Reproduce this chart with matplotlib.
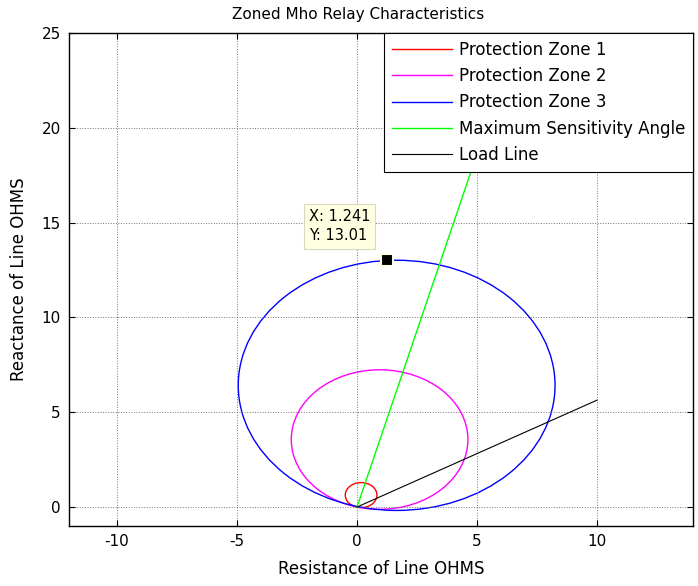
import matplotlib.pyplot as plt
from matplotlib.patches import Circle
from matplotlib.lines import Line2D

plt.rcParams['font.family'] = ['DejaVu Sans']
plt.rcParams['axes.unicode_minus'] = False

# mho circles: centre (R, X) and radius, ohms
zone_names = ['Protection Zone 1', 'Protection Zone 2', 'Protection Zone 3']
zone_colors = ['#ff0000', '#ff00ff', '#0000ff']
zone_cx = [0.17, 0.94, 1.65]
zone_cy = [0.63, 3.56, 6.42]
zone_r = [0.66, 3.68, 6.60]

# maximum sensitivity angle line and load line
msa_r = [0, 5.5]
msa_x = [0, 20.5]
load_r = [0, 10]
load_x = [0, 5.64]

tip_r, tip_x = 1.241, 13.01

fig = plt.figure(figsize=(6.98, 5.86), dpi=100)
ax = fig.add_axes([0.0989, 0.1024, 0.894, 0.841])

handles = []
for name, c, cx, cy, r in zip(zone_names, zone_colors, zone_cx, zone_cy, zone_r):
    ax.add_patch(Circle((cx, cy), r, fill=False, edgecolor=c, linewidth=1.0))
    handles.append(Line2D([], [], color=c, linewidth=1.0, label=name))
h, = ax.plot(msa_r, msa_x, color='#00ff00', linewidth=1.0, label='Maximum Sensitivity Angle')
handles.append(h)
h, = ax.plot(load_r, load_x, color='black', linewidth=0.8, label='Load Line')
handles.append(h)

ax.set_xlim(-12, 14)
ax.set_ylim(-1, 25)
ax.set_xticks([-10, -5, 0, 5, 10])
ax.set_yticks([0, 5, 10, 15, 20, 25])
ax.grid(True, linestyle=':', color='0.45', linewidth=0.7)
ax.tick_params(direction='in', top=True, right=True, labelsize=11, length=4, pad=6)
for s in ax.spines.values():
    s.set_linewidth(1.0)

ax.set_title('Zoned Mho Relay Characteristics', fontsize=11, pad=10, x=0.463)
ax.set_xlabel('Resistance of Line OHMS', fontsize=12, labelpad=8)
ax.set_ylabel('Reactance of Line OHMS', fontsize=12, labelpad=10)

leg = ax.legend(handles=handles, loc='upper right', fontsize=12, frameon=True, fancybox=False,
                borderaxespad=0, handlelength=3.6, labelspacing=0.5,
                borderpad=0.45, handletextpad=0.45)
leg.get_frame().set_edgecolor('black')
leg.get_frame().set_linewidth(0.8)
leg.get_frame().set_alpha(1)
leg.set_zorder(5)

# data tip
ax.plot([tip_r], [tip_x], marker='s', markersize=8, color='black',
        markeredgecolor='#ffffe1', markeredgewidth=1.5, zorder=6)
ax.annotate('X: %.3f\nY: %.2f' % (tip_r, tip_x), xy=(tip_r, tip_x),
            xytext=(-78, 17), textcoords='offset pixels', ha='left', va='bottom',
            fontsize=10.5, linespacing=1.35, zorder=6,
            bbox=dict(boxstyle='square,pad=0.35', facecolor='#ffffe1',
                      edgecolor='#d8d8c0', linewidth=0.8))

fig.savefig('out.png', dpi=100)
